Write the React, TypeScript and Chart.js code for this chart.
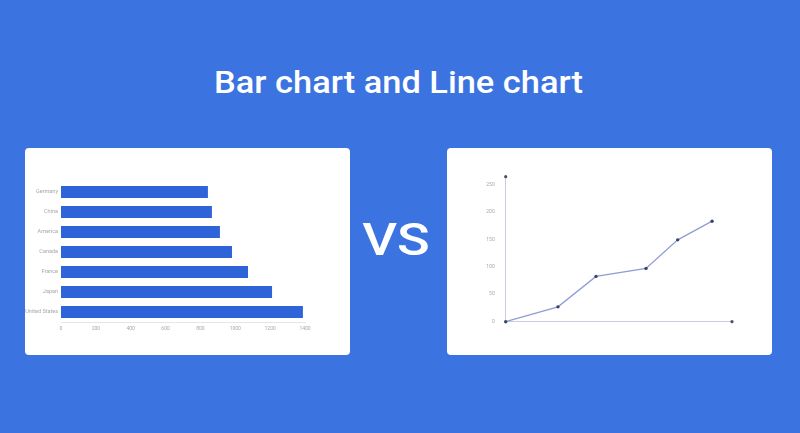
import React, { useEffect, useRef } from "react";
import { Chart, registerables } from "chart.js";

Chart.register(...registerables);

const barCategories = ["Germany", "China", "America", "Canada", "France", "Japan", "United States"];
const barValues = [843, 866, 912, 981, 1073, 1211, 1388];
const barTicks = [0, 200, 400, 600, 800, 1000, 1200, 1400];

const lineX = [0, 23.1, 39.9, 62, 76, 91.2];
const lineY = [0, 27, 82.5, 97, 149, 183];
const lineTicks = [0, 50, 100, 150, 200, 250];

const BG = "#3b74e0";
const BAR = "#2f64d8";
const TICK = "#a8a8a8";
const FONT = "Roboto, 'Noto Sans', sans-serif";

const arrowPlugin = {
  id: "axisEnds",
  afterDraw(chart: any) {
    const { ctx, chartArea } = chart;
    ctx.save();
    ctx.fillStyle = "#4a4f6a";
    ctx.beginPath();
    ctx.arc(chartArea.left, chartArea.top, 1.6, 0, Math.PI * 2);
    ctx.fill();
    ctx.beginPath();
    ctx.arc(chartArea.right, chartArea.bottom, 1.6, 0, Math.PI * 2);
    ctx.fill();
    ctx.restore();
  },
};

function BarCard() {
  const ref = useRef<HTMLCanvasElement>(null);
  useEffect(() => {
    const chart = new Chart(ref.current!, {
      type: "bar",
      data: {
        labels: barCategories,
        datasets: [
          {
            data: barValues,
            backgroundColor: BAR,
            barPercentage: 0.6,
            categoryPercentage: 1,
          },
        ],
      },
      options: {
        indexAxis: "y",
        animation: false,
        responsive: false,
        devicePixelRatio: 1,
        layout: { padding: { left: 0, right: 45, top: 34, bottom: 19 } },
        plugins: { legend: { display: false }, tooltip: { enabled: false } },
        scales: {
          x: {
            min: 0,
            max: 1400,
            afterBuildTicks: (s: any) => {
              s.ticks = barTicks.map((v) => ({ value: v }));
            },
            afterFit: (s: any) => {
              s.height = 14;
            },
            grid: { display: false, drawTicks: false },
            border: { display: true, color: "#e6e6e6" },
            ticks: {
              color: TICK,
              font: { size: 5, family: FONT },
              padding: 4,
              maxRotation: 0,
              callback: (v: any) => String(v),
            },
          },
          y: {
            afterFit: (s: any) => {
              s.width = 36;
            },
            grid: { display: false, drawTicks: false },
            border: { display: false },
            ticks: { color: TICK, font: { size: 5.5, family: FONT }, padding: 3 },
          },
        },
      },
    });
    return () => chart.destroy();
  }, []);
  return <canvas ref={ref} width={325} height={207} style={{ display: "block" }} />;
}

function LineCard() {
  const ref = useRef<HTMLCanvasElement>(null);
  useEffect(() => {
    const chart = new Chart(ref.current!, {
      type: "line",
      data: {
        datasets: [
          {
            data: lineX.map((x, i) => ({ x, y: lineY[i] })),
            borderColor: "#8f9dd4",
            borderWidth: 1.3,
            pointRadius: 1.7,
            pointBackgroundColor: "#3c4270",
            pointBorderWidth: 0,
            tension: 0,
          },
        ],
      },
      options: {
        animation: false,
        responsive: false,
        devicePixelRatio: 1,
        clip: false,
        layout: { padding: { left: 0, right: 40, top: 28.7, bottom: 33.3 } },
        plugins: { legend: { display: false }, tooltip: { enabled: false } },
        scales: {
          x: {
            type: "linear",
            min: 0,
            max: 100,
            afterFit: (s: any) => {
              s.height = 0;
            },
            grid: { display: false, drawTicks: false },
            border: { display: true, color: "#c9cde0", width: 1 },
            ticks: { display: false },
          },
          y: {
            min: 0,
            max: 264,
            afterBuildTicks: (s: any) => {
              s.ticks = lineTicks.map((v) => ({ value: v }));
            },
            afterFit: (s: any) => {
              s.width = 58.7;
            },
            grid: { display: false, drawTicks: false },
            border: { display: true, color: "#c9cde0", width: 1 },
            ticks: { color: TICK, font: { size: 5, family: FONT }, padding: 11 },
          },
        },
      },
      plugins: [arrowPlugin],
    });
    return () => chart.destroy();
  }, []);
  return <canvas ref={ref} width={325} height={207} style={{ display: "block" }} />;
}

const cardStyle: React.CSSProperties = {
  position: "absolute",
  top: 148,
  width: 325,
  height: 207,
  background: "#ffffff",
  borderRadius: 4,
  overflow: "hidden",
};

export default function App() {
  return (
    <div
      style={{
        position: "fixed",
        left: 0,
        top: 0,
        width: 800,
        height: 433,
        background: BG,
        overflow: "hidden",
        fontFamily: FONT,
      }}
    >
      <div
        style={{
          position: "absolute",
          left: 0,
          width: 800,
          top: 65,
          textAlign: "center",
          color: "#ffffff",
          fontSize: 31,
          fontWeight: 500,
          lineHeight: "36px",
          transform: "translateX(-1.5px) scaleX(1.11)",
        }}
      >
        Bar chart and Line chart
      </div>
      <div style={{ ...cardStyle, left: 25 }}>
        <BarCard />
      </div>
      <div
        style={{
          position: "absolute",
          left: 340.5,
          width: 110,
          top: 214,
          textAlign: "center",
          color: "#ffffff",
          fontSize: 45,
          fontWeight: 500,
          lineHeight: "52px",
          transform: "scaleX(1.2)",
        }}
      >
        VS
      </div>
      <div style={{ ...cardStyle, left: 447 }}>
        <LineCard />
      </div>
    </div>
  );
}
